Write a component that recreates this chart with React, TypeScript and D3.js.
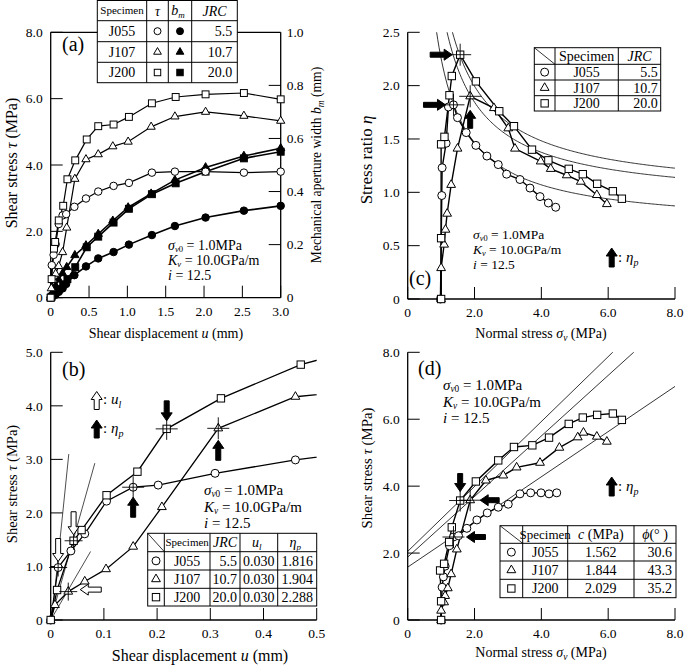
import React from "react";
import * as d3 from "d3";

// ---------------- Data ----------------
const specimens = ["J055", "J107", "J200"];
const markerTypes = ["circle", "triangle", "square"];
const jrcValues = ["5.5", "10.7", "20.0"];
const u1Values = ["0.030", "0.030", "0.030"];
const etaPValues = ["1.816", "1.904", "2.288"];
const cValues = ["1.562", "1.844", "2.029"];
const phiValues = ["30.6", "43.3", "35.2"];

// shear displacement u (mm)
const uJ055 = [0, 0.014, 0.038, 0.064, 0.105, 0.155, 0.202, 0.309, 0.46, 0.62, 0.82, 1.02, 1.32, 1.62, 2.02, 2.52, 3.0];
const uJ107 = [0, 0.008, 0.033, 0.064, 0.104, 0.155, 0.209, 0.315, 0.46, 0.62, 0.81, 1.01, 1.31, 1.62, 2.02, 2.52, 3.0];
const uJ200 = [0, 0.012, 0.043, 0.058, 0.105, 0.163, 0.218, 0.32, 0.47, 0.62, 0.82, 1.02, 1.32, 1.63, 2.02, 2.52, 3.0];
// shear stress tau (MPa)
const tauJ055 = [0, 0.98, 1.29, 1.61, 2.22, 2.48, 2.52, 2.74, 2.99, 3.2, 3.37, 3.46, 3.77, 3.8, 3.8, 3.77, 3.8];
const tauJ107 = [0, 0.28, 0.53, 0.72, 0.95, 1.37, 2.11, 3.58, 4.17, 4.32, 4.56, 4.7, 5.15, 5.46, 5.6, 5.48, 5.33];
const tauJ200 = [0, 0.56, 1.48, 1.68, 2.33, 2.77, 3.57, 4.14, 4.77, 5.17, 5.22, 5.45, 5.86, 6.05, 6.13, 6.17, 5.98];
// mechanical aperture width b_m (mm)
const bmJ055 = [0, 0.003, 0.008, 0.013, 0.022, 0.035, 0.052, 0.085, 0.118, 0.148, 0.172, 0.2, 0.236, 0.27, 0.302, 0.328, 0.346];
const bmJ107 = [0, 0.008, 0.025, 0.045, 0.068, 0.092, 0.115, 0.16, 0.197, 0.24, 0.29, 0.34, 0.392, 0.443, 0.491, 0.534, 0.563];
const bmJ200 = [0, 0.004, 0.012, 0.018, 0.032, 0.05, 0.07, 0.115, 0.19, 0.23, 0.283, 0.335, 0.39, 0.431, 0.475, 0.525, 0.55];
// normal stress sigma_v (MPa) as plotted in panel (c)
const sigCJ055 = [0.98, 1.02, 1.03, 1.15, 1.22, 1.37, 1.49, 1.75, 2.04, 2.37, 2.71, 2.96, 3.36, 3.66, 3.96, 4.21, 4.43];
const sigCJ107 = [1.0, 1.0, 1.09, 1.13, 1.18, 1.3, 1.49, 1.87, 2.58, 3.01, 3.21, 3.98, 4.28, 4.76, 5.18, 5.66, 5.96];
const sigCJ200 = [1.0, 1.0, 1.0, 1.1, 1.25, 1.32, 1.57, 2.04, 2.74, 3.18, 3.72, 4.21, 4.82, 5.24, 5.67, 6.14, 6.41];
// stress ratio eta
const etaJ055 = [0, 0.97, 1.23, 1.46, 1.8, 1.82, 1.7, 1.56, 1.44, 1.34, 1.26, 1.17, 1.12, 1.04, 0.96, 0.9, 0.86];
const etaJ107 = [0, 0.29, 0.51, 0.65, 0.8, 1.07, 1.41, 1.9, 1.79, 1.6, 1.41, 1.29, 1.22, 1.16, 1.1, 0.975, 0.89];
const etaJ200 = [0, 0.57, 1.45, 1.52, 1.91, 2.09, 2.29, 2.04, 1.76, 1.62, 1.4, 1.3, 1.22, 1.17, 1.08, 1.01, 0.94];
// normal stress sigma_v (MPa) as plotted in panel (d)
const sigDJ055 = [1.0, 1.03, 1.07, 1.12, 1.25, 1.37, 1.52, 1.77, 2.07, 2.38, 2.71, 3.01, 3.36, 3.68, 3.99, 4.23, 4.46];
const sigDJ107 = [1.0, 1.0, 1.09, 1.12, 1.2, 1.3, 1.47, 1.87, 2.34, 2.86, 3.26, 3.96, 4.54, 5.09, 5.26, 5.66, 5.96];
const sigDJ200 = [1.0, 1.0, 0.97, 1.09, 1.24, 1.32, 1.57, 2.04, 2.71, 3.18, 3.73, 4.23, 4.82, 5.24, 5.67, 6.14, 6.41];

const peakIndex = [5, 7, 6];
const u1Index = [1, 2, 2];

// strength envelope: tau = c + s*sigma (panel d), eta = c/sigma + s (panel c)
const envIntercept = [1.58, 1.88, 2.05];
const envSlope = [0.675, 0.905, 0.97];

// thin tangent lines of panel (b)
const tanStartU = [0.002, 0, 0];
const tanEndU = [0.034, 0.083, 0.075];
const tanEndTau = [3.1, 2.93, 1.28];

// ticks
const ticksAx = [0, 0.5, 1, 1.5, 2, 2.5, 3];
const ticksAy = [0, 2, 4, 6, 8];
const ticksAy2 = [0, 0.2, 0.4, 0.6, 0.8, 1.0];
const ticksBx = [0, 0.1, 0.2, 0.3, 0.4, 0.5];
const ticksBy = [0, 1, 2, 3, 4, 5];
const ticksCx = [0, 2, 4, 6, 8];
const ticksCy = [0, 0.5, 1, 1.5, 2, 2.5];
const ticksDy = [0, 2, 4, 6, 8];

// ---------------- Helpers ----------------
const FONT = "'Liberation Serif', 'Times New Roman', 'DejaVu Serif', serif";
const fmt = (v: number) => (v === 0 ? "0" : v.toFixed(1));
const TICK = 12;
const TFS = 13.5;

function Marker({ type, x, y, s = 8, filled = false }: any) {
  const fill = filled ? "#000" : "#fff";
  if (type === "circle") return <circle cx={x} cy={y} r={s / 2} fill={fill} stroke="#000" strokeWidth={1} />;
  if (type === "square") {
    const q = s * 0.92;
    return <rect x={x - q / 2} y={y - q / 2} width={q} height={q} fill={fill} stroke="#000" strokeWidth={1} />;
  }
  const a = s * 1.1;
  const h = a * 0.866;
  const pts = [[x, y - (2 * h) / 3], [x - a / 2, y + h / 3], [x + a / 2, y + h / 3]];
  return <polygon points={pts.map((p) => p.join(",")).join(" ")} fill={fill} stroke="#000" strokeWidth={1} />;
}

function arrowPts(tx: number, ty: number, dir: string, len = 20, sw = 5, hw = 11, hl = 8) {
  const loc = [[0, 0], [-hl, -hw / 2], [-hl, -sw / 2], [-len, -sw / 2], [-len, sw / 2], [-hl, sw / 2], [-hl, hw / 2]];
  const ang = ({ right: 0, down: 90, left: 180, up: -90 } as any)[dir] * Math.PI / 180;
  const c = Math.cos(ang), s = Math.sin(ang);
  return loc.map(([x, y]) => [tx + x * c - y * s, ty + x * s + y * c].map((v) => v.toFixed(2)).join(",")).join(" ");
}
function Arrow({ x, y, dir, filled = true, len = 20 }: any) {
  return <polygon points={arrowPts(x, y, dir, len)} fill={filled ? "#000" : "#fff"} stroke="#000" strokeWidth={1} />;
}
function Cross({ x, y, r = 10 }: any) {
  return (
    <g stroke="#000" strokeWidth={0.9}>
      <line x1={x - r} x2={x + r} y1={y} y2={y} />
      <line x1={x} x2={x} y1={y - r} y2={y + r} />
    </g>
  );
}

function Axes({ xs, ys, xt, yt, box = false, xFmt = fmt, yFmt = fmt }: any) {
  const [x0, x1] = xs.range();
  const [y0, y1] = ys.range();
  return (
    <g>
      <line x1={x0} x2={x0} y1={y0} y2={y1} stroke="#000" strokeWidth={1.3} />
      <line x1={x0} x2={x1} y1={y0} y2={y0} stroke="#000" strokeWidth={1.3} />
      {box && <line x1={x1} x2={x1} y1={y0} y2={y1} stroke="#000" strokeWidth={1.3} />}
      {box && <line x1={x0} x2={x1} y1={y1} y2={y1} stroke="#000" strokeWidth={1.3} />}
      {yt.map((v: number) => (
        <g key={"y" + v}>
          <line x1={x0} x2={x0 + TICK} y1={ys(v)} y2={ys(v)} stroke="#000" strokeWidth={1} />
          <text x={x0 - 8} y={ys(v)} dy="0.35em" textAnchor="end" fontSize={TFS}>{yFmt(v)}</text>
        </g>
      ))}
      {xt.map((v: number) => (
        <g key={"x" + v}>
          <line x1={xs(v)} x2={xs(v)} y1={y0} y2={y0 - TICK} stroke="#000" strokeWidth={1} />
          <text x={xs(v)} y={y0 + 18} textAnchor="middle" fontSize={TFS}>{xFmt(v)}</text>
        </g>
      ))}
    </g>
  );
}

function Params({ x, y, dy = 14, fs = 14.5 }: any) {
  const sub = fs * 0.62;
  return (
    <g fontSize={fs}>
      <text x={x} y={y}>
        <tspan fontStyle="italic">σ</tspan>
        <tspan fontSize={sub} dy={2}><tspan fontStyle="italic">v</tspan>0</tspan>
        <tspan dy={-2}> = 1.0MPa</tspan>
      </text>
      <text x={x} y={y + dy}>
        <tspan fontStyle="italic">K</tspan>
        <tspan fontSize={sub} dy={2} fontStyle="italic">v</tspan>
        <tspan dy={-2}> = 10.0GPa/m</tspan>
      </text>
      <text x={x} y={y + 2 * dy}>
        <tspan fontStyle="italic">i</tspan> = 12.5
      </text>
    </g>
  );
}

function EtaP({ x, y }: any) {
  return (
    <text x={x} y={y} fontSize={15}>
      : <tspan fontStyle="italic">η</tspan>
      <tspan fontSize={10} dy={4} fontStyle="italic">p</tspan>
    </text>
  );
}

function Grid({ cols, rows }: any) {
  const x0 = cols[0], x1 = cols[cols.length - 1], y0 = rows[0], y1 = rows[rows.length - 1];
  return (
    <g stroke="#000" strokeWidth={1}>
      <rect x={x0} y={y0} width={x1 - x0} height={y1 - y0} fill="#fff" />
      {cols.slice(1, -1).map((c: number) => <line key={"c" + c} x1={c} x2={c} y1={y0} y2={y1} />)}
      {rows.slice(1, -1).map((r: number) => <line key={"r" + r} x1={x0} x2={x1} y1={r} y2={r} />)}
    </g>
  );
}

export default function App() {
  const W = 685, H = 669;
  const series = specimens.map((name, i) => ({
    name,
    type: markerTypes[i],
    u: [uJ055, uJ107, uJ200][i],
    tau: [tauJ055, tauJ107, tauJ200][i],
    bm: [bmJ055, bmJ107, bmJ200][i],
    sigC: [sigCJ055, sigCJ107, sigCJ200][i],
    eta: [etaJ055, etaJ107, etaJ200][i],
    sigD: [sigDJ055, sigDJ107, sigDJ200][i],
  }));

  // scales
  const xA = d3.scaleLinear().domain([0, 3]).range([50.7, 280.7]);
  const yA = d3.scaleLinear().domain([0, 8]).range([297.7, 32.3]);
  const yA2 = d3.scaleLinear().domain([0, 1]).range([297.7, 32.3]);
  const xB = d3.scaleLinear().domain([0, 0.5]).range([50.7, 316.7]);
  const yB = d3.scaleLinear().domain([0, 5]).range([620, 352.3]);
  const xC = d3.scaleLinear().domain([0, 8]).range([407.7, 675]);
  const yC = d3.scaleLinear().domain([0, 2.5]).range([299, 32.3]);
  const xD = d3.scaleLinear().domain([0, 8]).range([407.7, 675]);
  const yD = d3.scaleLinear().domain([0, 8]).range([620, 352.3]);

  const line = d3.line<number[]>().x((d) => d[0]).y((d) => d[1]);
  const pathOf = (xs: any, ys: any, X: number[], Y: number[]) => line(X.map((v, k) => [xs(v), ys(Y[k])]))!;

  return (
    <svg width={W} height={H} style={{ position: "absolute", left: 0, top: 0, background: "#fff", fontFamily: FONT }}>
      <defs>
        <clipPath id="clipB"><rect x={50.7} y={330} width={266} height={290} /></clipPath>
        <clipPath id="clipC"><rect x={407.7} y={32.3} width={267.3} height={266.7} /></clipPath>
        <clipPath id="clipD"><rect x={407.7} y={352.3} width={267.3} height={267.7} /></clipPath>
      </defs>
      <rect x={0} y={0} width={W} height={H} fill="#fff" />

      {/* ================= Panel (a) ================= */}
      <g>
        <Axes xs={xA} ys={yA} xt={ticksAx} yt={ticksAy} box />
        {ticksAy2.map((v) => (
          <g key={"r" + v}>
            {v > 0 && v < 1 && <line x1={xA.range()[1] - TICK} x2={xA.range()[1]} y1={yA2(v)} y2={yA2(v)} stroke="#000" strokeWidth={1} />}
            <text x={xA.range()[1] + 6} y={yA2(v)} dy="0.35em" fontSize={TFS}>{fmt(v)}</text>
          </g>
        ))}
        {series.map((s) => (
          <path key={"bl" + s.name} d={pathOf(xA, yA2, s.u, s.bm)} fill="none" stroke="#000" strokeWidth={1.6} />
        ))}
        {series.map((s) => (
          <path key={"tl" + s.name} d={pathOf(xA, yA, s.u, s.tau)} fill="none" stroke="#000" strokeWidth={1.2} />
        ))}
        {series.map((s) => s.u.map((u, k) => <Marker key={"bm" + s.name + k} type={s.type} x={xA(u)} y={yA2(s.bm[k])} s={7.5} filled />))}
        {series.map((s) => s.u.map((u, k) => <Marker key={"tm" + s.name + k} type={s.type} x={xA(u)} y={yA(s.tau[k])} s={7.5} />))}
        <text x={62} y={51} fontSize={20}>(a)</text>
        <Params x={168} y={250} dy={15} fs={14} />
        <text transform={`translate(17,163) rotate(-90)`} textAnchor="middle" fontSize={16}>
          Shear stress <tspan fontStyle="italic">τ</tspan> (MPa)
        </text>
        <text transform={`translate(321,165) rotate(-90)`} textAnchor="middle" fontSize={13.6}>
          Mechanical aperture width <tspan fontStyle="italic">b</tspan>
          <tspan fontSize={9.5} dy={3} fontStyle="italic">m</tspan>
          <tspan dy={-3}> (mm)</tspan>
        </text>
        <text x={166} y={338} textAnchor="middle" fontSize={14}>
          Shear displacement <tspan fontStyle="italic">u</tspan> (mm)
        </text>
        {/* legend table (a) */}
        {(() => {
          const cols = [97.3, 146.7, 168.3, 191.7, 237.3];
          const rows = [0.5, 20.7, 41.7, 62.3, 82.7];
          const cx = (i: number) => (cols[i] + cols[i + 1]) / 2;
          const cy = (j: number) => (rows[j] + rows[j + 1]) / 2;
          return (
            <g>
              <Grid cols={cols} rows={rows} />
              <text x={cx(0)} y={cy(0)} dy="0.35em" textAnchor="middle" fontSize={11}>Specimen</text>
              <text x={cx(1)} y={cy(0)} dy="0.35em" textAnchor="middle" fontSize={14} fontStyle="italic">τ</text>
              <text x={cx(2) - 2} y={cy(0)} dy="0.3em" textAnchor="middle" fontSize={14} fontStyle="italic">
                b<tspan fontSize={9} dy={3}>m</tspan>
              </text>
              <text x={cx(3)} y={cy(0)} dy="0.35em" textAnchor="middle" fontSize={14} fontStyle="italic">JRC</text>
              {specimens.map((sp, j) => (
                <g key={"ta" + sp}>
                  <text x={cx(0)} y={cy(j + 1)} dy="0.35em" textAnchor="middle" fontSize={14}>{sp}</text>
                  <Marker type={markerTypes[j]} x={cx(1)} y={cy(j + 1)} s={7} />
                  <Marker type={markerTypes[j]} x={cx(2)} y={cy(j + 1)} s={7} filled />
                  <text x={cols[4] - 5} y={cy(j + 1)} dy="0.35em" textAnchor="end" fontSize={14}>{jrcValues[j]}</text>
                </g>
              ))}
            </g>
          );
        })()}
      </g>

      {/* ================= Panel (b) ================= */}
      <g>
        <Axes xs={xB} ys={yB} xt={ticksBx} yt={ticksBy} />
        <g clipPath="url(#clipB)">
          {tanEndU.map((u, i) => (
            <line key={"tan" + i} x1={xB(tanStartU[i])} y1={yB(0)} x2={xB(u)} y2={yB(tanEndTau[i])} stroke="#000" strokeWidth={0.7} />
          ))}
          {series.map((s) => (
            <path key={"bl2" + s.name} d={pathOf(xB, yB, s.u, s.tau)} fill="none" stroke="#000" strokeWidth={1.3} />
          ))}
        </g>
        {series.map((s) => s.u.map((u, k) => (u <= 0.5 ? <Marker key={"bm2" + s.name + k} type={s.type} x={xB(u)} y={yB(s.tau[k])} s={8} /> : null)))}
        {series.map((s, i) => <Cross key={"cp" + i} x={xB(s.u[peakIndex[i]])} y={yB(s.tau[peakIndex[i]])} r={11} />)}
        {series.map((s, i) => <Cross key={"cu" + i} x={xB(s.u[u1Index[i]])} y={yB(s.tau[u1Index[i]])} r={9} />)}
        {/* u1 arrows */}
        <Arrow x={xB(series[0].u[u1Index[0]])} y={yB(series[0].tau[u1Index[0]]) - 6} dir="down" filled={false} len={23} />
        <Arrow x={xB(series[2].u[u1Index[2]])} y={yB(series[2].tau[u1Index[2]]) - 6} dir="down" filled={false} len={23} />
        <Arrow x={xB(series[1].u[u1Index[1]]) + 12} y={yB(series[1].tau[u1Index[1]]) - 2} dir="left" filled={false} len={21} />
        {/* peak arrows */}
        <Arrow x={xB(series[0].u[peakIndex[0]])} y={yB(series[0].tau[peakIndex[0]]) + 10} dir="up" />
        <Arrow x={xB(series[1].u[peakIndex[1]])} y={yB(series[1].tau[peakIndex[1]]) + 12} dir="up" />
        <Arrow x={xB(series[2].u[peakIndex[2]])} y={yB(series[2].tau[peakIndex[2]]) - 8} dir="down" />
        {/* legend arrows */}
        <Arrow x={96.7} y={391.5} dir="up" filled={false} len={18} />
        <text x={103} y={404} fontSize={15}>
          : <tspan fontStyle="italic">u</tspan><tspan fontSize={10} dy={4} fontStyle="italic">l</tspan>
        </text>
        <Arrow x={96.7} y={420} dir="up" len={18} />
        <EtaP x={103} y={433} />
        <text x={62} y={376} fontSize={20}>(b)</text>
        <Params x={204} y={495} dy={16.5} fs={15} />
        <text transform={`translate(17,484) rotate(-90)`} textAnchor="middle" fontSize={14.5}>
          Shear stress <tspan fontStyle="italic">τ</tspan> (MPa)
        </text>
        <text x={200} y={661} textAnchor="middle" fontSize={16}>
          Shear displacement <tspan fontStyle="italic">u</tspan> (mm)
        </text>
        {(() => {
          const cols = [147.7, 164.3, 210, 240, 277.7, 316.7];
          const rows = [533.3, 551.7, 570, 588.3, 606];
          const cx = (i: number) => (cols[i] + cols[i + 1]) / 2;
          const cy = (j: number) => (rows[j] + rows[j + 1]) / 2;
          return (
            <g>
              <Grid cols={cols} rows={rows} />
              <line x1={cols[0]} y1={rows[0]} x2={cols[1]} y2={rows[1]} stroke="#000" strokeWidth={0.8} />
              <text x={cx(1)} y={cy(0)} dy="0.35em" textAnchor="middle" fontSize={11}>Specimen</text>
              <text x={cx(2)} y={cy(0)} dy="0.35em" textAnchor="middle" fontSize={14} fontStyle="italic">JRC</text>
              <text x={cx(3) - 2} y={cy(0)} dy="0.3em" textAnchor="middle" fontSize={14} fontStyle="italic">
                u<tspan fontSize={9} dy={3}>l</tspan>
              </text>
              <text x={cx(4) - 2} y={cy(0)} dy="0.3em" textAnchor="middle" fontSize={14} fontStyle="italic">
                η<tspan fontSize={9} dy={3}>p</tspan>
              </text>
              {specimens.map((sp, j) => (
                <g key={"tb" + sp}>
                  <Marker type={markerTypes[j]} x={cx(0)} y={cy(j + 1)} s={8} />
                  <text x={cx(1)} y={cy(j + 1)} dy="0.35em" textAnchor="middle" fontSize={14}>{sp}</text>
                  <text x={cols[3] - 3} y={cy(j + 1)} dy="0.35em" textAnchor="end" fontSize={14}>{jrcValues[j]}</text>
                  <text x={cx(3)} y={cy(j + 1)} dy="0.35em" textAnchor="middle" fontSize={14}>{u1Values[j]}</text>
                  <text x={cx(4)} y={cy(j + 1)} dy="0.35em" textAnchor="middle" fontSize={14}>{etaPValues[j]}</text>
                </g>
              ))}
            </g>
          );
        })()}
      </g>

      {/* ================= Panel (c) ================= */}
      <g>
        <Axes xs={xC} ys={yC} xt={ticksCx} yt={ticksCy} />
        <g clipPath="url(#clipC)">
          {envIntercept.map((c, i) => {
            const sMin = c / (2.7 - envSlope[i]);
            const sig = d3.range(sMin, 8.05, 0.04);
            return <path key={"cv" + i} d={line(sig.map((x) => [xC(x), yC(c / x + envSlope[i])]))!} fill="none" stroke="#000" strokeWidth={0.8} />;
          })}
          {series.map((s) => (
            <path key={"cl" + s.name} d={pathOf(xC, yC, s.sigC, s.eta)} fill="none" stroke="#000" strokeWidth={1.4} />
          ))}
        </g>
        {series.map((s) => s.sigC.map((x, k) => <Marker key={"cm" + s.name + k} type={s.type} x={xC(x)} y={yC(s.eta[k])} s={8} />))}
        {series.map((s, i) => <Cross key={"cc" + i} x={xC(s.sigC[peakIndex[i]])} y={yC(s.eta[peakIndex[i]])} r={11} />)}
        <Arrow x={xC(series[2].sigC[peakIndex[2]]) - 8} y={yC(series[2].eta[peakIndex[2]])} dir="right" len={22} />
        <Arrow x={xC(series[0].sigC[peakIndex[0]]) - 8} y={yC(series[0].eta[peakIndex[0]])} dir="right" len={22} />
        <Arrow x={xC(series[1].sigC[peakIndex[1]])} y={yC(series[1].eta[peakIndex[1]]) + 14} dir="up" len={18} />
        <Arrow x={611.7} y={248} dir="up" len={19} />
        <EtaP x={618} y={262} />
        <text x={409} y={285} fontSize={20}>(c)</text>
        <Params x={473} y={239} dy={15} fs={13.5} />
        <text transform={`translate(372,160) rotate(-90)`} textAnchor="middle" fontSize={17}>
          Stress ratio <tspan fontStyle="italic">η</tspan>
        </text>
        <text x={541} y={338} textAnchor="middle" fontSize={14}>
          Normal stress <tspan fontStyle="italic">σ</tspan><tspan fontSize={9.5} dy={3} fontStyle="italic">v</tspan><tspan dy={-3}> (MPa)</tspan>
        </text>
        {(() => {
          const cols = [534.3, 555, 618.3, 660.7];
          const rows = [47.7, 64.3, 80, 95.7, 111];
          const cx = (i: number) => (cols[i] + cols[i + 1]) / 2;
          const cy = (j: number) => (rows[j] + rows[j + 1]) / 2;
          return (
            <g>
              <Grid cols={cols} rows={rows} />
              <line x1={cols[0]} y1={rows[0]} x2={cols[1]} y2={rows[1]} stroke="#000" strokeWidth={0.8} />
              <text x={cx(1)} y={cy(0)} dy="0.35em" textAnchor="middle" fontSize={14}>Specimen</text>
              <text x={cx(2)} y={cy(0)} dy="0.35em" textAnchor="middle" fontSize={14} fontStyle="italic">JRC</text>
              {specimens.map((sp, j) => (
                <g key={"tc" + sp}>
                  <Marker type={markerTypes[j]} x={cx(0)} y={cy(j + 1)} s={8} />
                  <text x={cx(1)} y={cy(j + 1)} dy="0.35em" textAnchor="middle" fontSize={14}>{sp}</text>
                  <text x={cols[3] - 3} y={cy(j + 1)} dy="0.35em" textAnchor="end" fontSize={14}>{jrcValues[j]}</text>
                </g>
              ))}
            </g>
          );
        })()}
      </g>

      {/* ================= Panel (d) ================= */}
      <g>
        <Axes xs={xD} ys={yD} xt={ticksCx} yt={ticksDy} />
        <g clipPath="url(#clipD)">
          {envIntercept.map((c, i) => (
            <line key={"env" + i} x1={xD(0)} y1={yD(c)} x2={xD(8)} y2={yD(c + 8 * envSlope[i])} stroke="#000" strokeWidth={0.8} />
          ))}
          {series.map((s) => (
            <path key={"dl" + s.name} d={pathOf(xD, yD, s.sigD, s.tau)} fill="none" stroke="#000" strokeWidth={1.4} />
          ))}
        </g>
        {series.map((s) => s.sigD.map((x, k) => <Marker key={"dm" + s.name + k} type={s.type} x={xD(x)} y={yD(s.tau[k])} s={8} />))}
        {series.map((s, i) => <Cross key={"cd" + i} x={xD(s.sigD[peakIndex[i]])} y={yD(s.tau[peakIndex[i]])} r={11} />)}
        <Arrow x={xD(series[2].sigD[peakIndex[2]])} y={yD(series[2].tau[peakIndex[2]]) - 9} dir="down" len={18} />
        <Arrow x={xD(series[1].sigD[peakIndex[1]]) + 10} y={yD(series[1].tau[peakIndex[1]])} dir="left" len={19} />
        <Arrow x={xD(series[0].sigD[peakIndex[0]]) + 13} y={yD(series[0].tau[peakIndex[0]])} dir="left" len={19} />
        <Arrow x={611.7} y={477} dir="up" len={19} />
        <EtaP x={618} y={491} />
        <text x={418} y={375} fontSize={20}>(d)</text>
        <Params x={443} y={390} dy={16.5} fs={15} />
        <text transform={`translate(372,468) rotate(-90)`} textAnchor="middle" fontSize={14.8}>
          Shear stress <tspan fontStyle="italic">τ</tspan> (MPa)
        </text>
        <text x={541} y={657} textAnchor="middle" fontSize={14}>
          Normal stress <tspan fontStyle="italic">σ</tspan><tspan fontSize={9.5} dy={3} fontStyle="italic">v</tspan><tspan dy={-3}> (MPa)</tspan>
        </text>
        {(() => {
          const cols = [500, 522.7, 567.7, 634, 676];
          const rows = [525.7, 543.3, 561, 579.3, 597.7];
          const cx = (i: number) => (cols[i] + cols[i + 1]) / 2;
          const cy = (j: number) => (rows[j] + rows[j + 1]) / 2;
          return (
            <g>
              <Grid cols={cols} rows={rows} />
              <line x1={cols[0]} y1={rows[0]} x2={cols[1]} y2={rows[1]} stroke="#000" strokeWidth={0.8} />
              <text x={cx(1)} y={cy(0)} dy="0.35em" textAnchor="middle" fontSize={13}>Specimen</text>
              <text x={cx(2)} y={cy(0)} dy="0.35em" textAnchor="middle" fontSize={14}>
                <tspan fontStyle="italic">c</tspan> (MPa)
              </text>
              <text x={cx(3)} y={cy(0)} dy="0.35em" textAnchor="middle" fontSize={14}>
                <tspan fontStyle="italic">ϕ</tspan>(°  )
              </text>
              {specimens.map((sp, j) => (
                <g key={"td" + sp}>
                  <Marker type={markerTypes[j]} x={cx(0)} y={cy(j + 1)} s={8} />
                  <text x={cx(1)} y={cy(j + 1)} dy="0.35em" textAnchor="middle" fontSize={14}>{sp}</text>
                  <text x={cx(2)} y={cy(j + 1)} dy="0.35em" textAnchor="middle" fontSize={14}>{cValues[j]}</text>
                  <text x={cols[4] - 4} y={cy(j + 1)} dy="0.35em" textAnchor="end" fontSize={14}>{phiValues[j]}</text>
                </g>
              ))}
            </g>
          );
        })()}
      </g>
    </svg>
  );
}
